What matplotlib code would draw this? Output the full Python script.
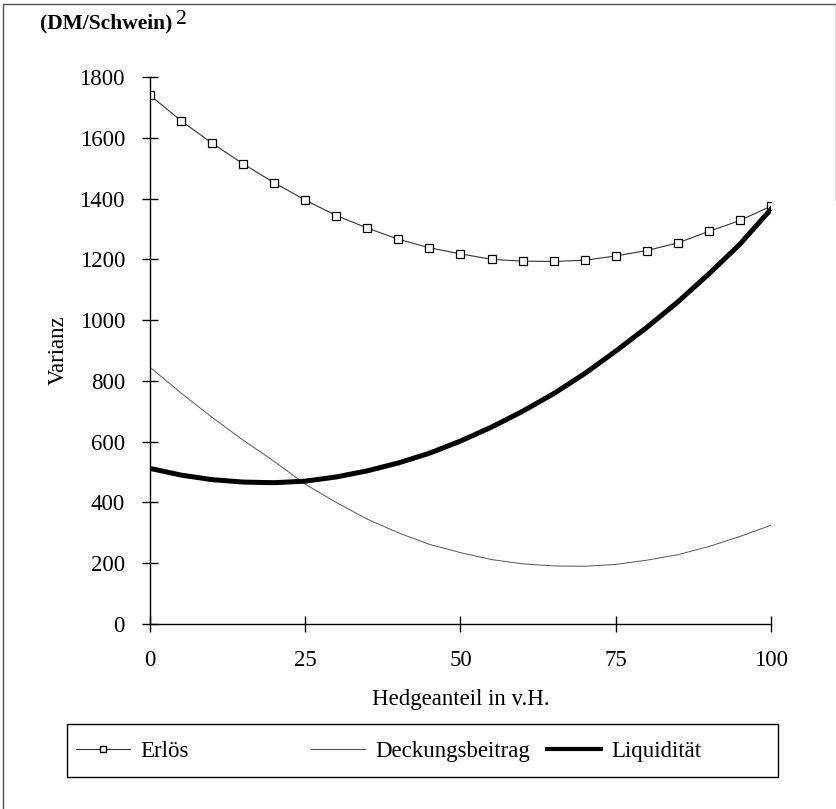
import matplotlib.pyplot as plt
from matplotlib.lines import Line2D
from matplotlib.patches import Rectangle

# Hedgeanteil in v.H.
hedge = [0, 5, 10, 15, 20, 25, 30, 35, 40, 45, 50,
         55, 60, 65, 70, 75, 80, 85, 90, 95, 100]

# Varianz (DM/Schwein)^2
erloes = [1740, 1656, 1582, 1514, 1452, 1395, 1344, 1303, 1266, 1238, 1218,
          1200, 1194, 1193, 1197, 1211, 1229, 1254, 1292, 1328, 1375]
deckung = [845, 760, 680, 605, 535, 460, 400, 345, 300, 262, 235,
           212, 198, 191, 190, 196, 210, 228, 255, 288, 325]
liquid = [512, 490, 475, 467, 465, 470, 484, 504, 530, 562, 602,
          648, 700, 758, 824, 898, 976, 1060, 1152, 1250, 1365]

x_ticks = [0, 25, 50, 75, 100]
y_ticks = [0, 200, 400, 600, 800, 1000, 1200, 1400, 1600, 1800]

plt.rcParams['font.family'] = ['Liberation Serif', 'DejaVu Serif']
FS = 16.5

fig = plt.figure(figsize=(8.37, 8.09), dpi=100)
ax = fig.add_axes([150 / 837, 1 - 624 / 809, 621 / 837, 547 / 809])

ax.plot(hedge, erloes, color='#333333', lw=0.8, marker='s', markersize=6,
        markerfacecolor='white', markeredgecolor='black', markeredgewidth=0.9,
        label='Erlös')
ax.plot(hedge, deckung, color='#555555', lw=0.7, label='Deckungsbeitrag')
ax.plot(hedge, liquid, color='black', lw=3.6, label='Liquidität')

ax.set_xlim(0, 100)
ax.set_ylim(0, 1800)
ax.set_xticks(x_ticks)
ax.set_yticks(y_ticks)
for s in ['top', 'right']:
    ax.spines[s].set_visible(False)
for s in ['left', 'bottom']:
    ax.spines[s].set_linewidth(1.0)
ax.tick_params(direction='inout', length=12, width=1.0, labelsize=FS)
ax.tick_params(axis='y', pad=12)
ax.tick_params(axis='x', pad=13)

ax.set_xlabel('Hedgeanteil in v.H.', fontsize=FS, labelpad=13)
ax.set_ylabel('Varianz', fontsize=FS, labelpad=8)

fig.text(40 / 837, 1 - 28 / 809, '(DM/Schwein)', fontsize=15.5,
         fontweight='bold', ha='left', va='baseline')
fig.text(176 / 837, 1 - 24 / 809, '2', fontsize=15.5,
         ha='left', va='baseline')

# legend box
fig.patches.append(Rectangle((67 / 837, 1 - 777 / 809), 711 / 837, 53 / 809,
                             transform=fig.transFigure, fill=False,
                             edgecolor='black', lw=1.0))
h_erl = Line2D([], [], color='#333333', lw=0.8, marker='s', markersize=5,
               markerfacecolor='white', markeredgecolor='black')
h_dek = Line2D([], [], color='#555555', lw=0.8)
h_liq = Line2D([], [], color='black', lw=3.0)
fig.legend([h_erl], ['Erlös'], loc='center left',
           bbox_to_anchor=(76 / 837, 1 - 751 / 809), frameon=False,
           fontsize=FS, handlelength=2.35, handletextpad=0.45,
           borderpad=0, borderaxespad=0)
fig.legend([h_dek, h_liq], ['Deckungsbeitrag', 'Liquidität'], ncol=2,
           loc='center left', bbox_to_anchor=(311 / 837, 1 - 751 / 809),
           frameon=False, fontsize=FS, handlelength=2.35, handletextpad=0.45,
           columnspacing=0.75, borderpad=0, borderaxespad=0)

# outer frame
fig.add_artist(Line2D([3 / 837, 3 / 837, 836 / 837, 836 / 837],
                      [0, 1 - 4 / 809, 1 - 4 / 809, 1 - 200 / 809],
                      transform=fig.transFigure, color='#555555', lw=1.0))

fig.savefig('out.png', dpi=100)
